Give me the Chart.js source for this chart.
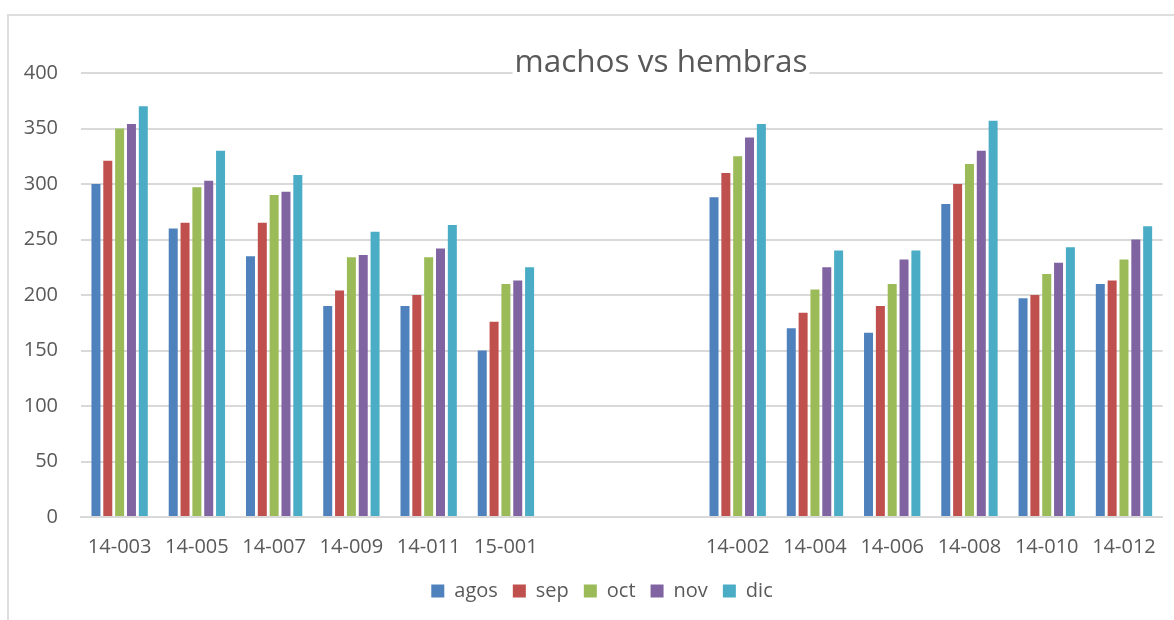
<!DOCTYPE html>
<html>
<head>
<meta charset="utf-8">
<script src="https://cdn.jsdelivr.net/npm/chart.js@4/dist/chart.umd.min.js"></script>
<style>
  html, body { margin: 0; padding: 0; background: #ffffff; overflow: hidden; }
  #wrap { position: relative; width: 1174px; height: 620px; }
  #frame { position: absolute; left: 7px; top: 14px; width: 1300px; height: 800px;
           border-top: 2px solid #dedede; border-left: 2px solid #dedede; box-sizing: border-box; }
  #c { position: absolute; left: 0; top: 0; }
  #title { position: absolute; left: 661px; top: 44px; transform: translateX(-50%);
           font-family: "Open Sans", sans-serif; font-size: 31.5px; line-height: 31px;
           color: #595959; background: #ffffff; white-space: nowrap; padding: 0 2px; }
</style>
</head>
<body>
<div id="wrap">
  <div id="frame"></div>
  <canvas id="c" width="1174" height="620"></canvas>
  <div id="title">machos vs hembras</div>
</div>
<script>
const categories = ['14-003','14-005','14-007','14-009','14-011','15-001','','','14-002','14-004','14-006','14-008','14-010','14-012'];
const seriesNames = ['agos','sep','oct','nov','dic'];
const agos = [300, 260, 235, 190, 190, 150, null, null, 288, 170, 166, 282, 197, 210];
const sep  = [321, 265, 265, 204, 200, 176, null, null, 310, 184, 190, 300, 200, 213];
const oct  = [350, 297, 290, 234, 234, 210, null, null, 325, 205, 210, 318, 219, 232];
const nov  = [354, 303, 293, 236, 242, 213, null, null, 342, 225, 232, 330, 229, 250];
const dic  = [370, 330, 308, 257, 263, 225, null, null, 354, 240, 240, 357, 243, 262];
const yTicks = [0, 50, 100, 150, 200, 250, 300, 350, 400];

const colors = ['#4F81BD', '#C0504D', '#9BBB59', '#8064A2', '#4BACC6'];
const seriesData = [agos, sep, oct, nov, dic];

const textColor = '#595959';
const gridColor = '#d9d9d9';
const font = { family: '"Open Sans", sans-serif', size: 20 };

const shiftLegend = {
  id: 'shiftLegend',
  afterLayout(chart) {
    const lg = chart.legend;
    if (lg) { lg.left = 36; }
  }
};

new Chart(document.getElementById('c'), {
  type: 'bar',
  data: {
    labels: categories,
    datasets: seriesNames.map((n, i) => ({
      label: n,
      data: seriesData[i],
      backgroundColor: colors[i],
      borderWidth: 0,
      barPercentage: 0.76,
      categoryPercentage: 0.766
    }))
  },
  plugins: [shiftLegend],
  options: {
    responsive: false,
    animation: false,
    layout: { padding: { left: 0, right: 6, top: 73, bottom: 9 } },
    plugins: {
      legend: {
        position: 'bottom',
        labels: {
          color: textColor, font: font,
          boxWidth: 13, boxHeight: 13, padding: 15
        }
      },
      title: { display: false },
      tooltip: { enabled: false }
    },
    scales: {
      x: {
        afterFit: (s) => { s.height = 49; },
        grid: { display: false, drawTicks: false },
        border: { display: true, color: gridColor, width: 2 },
        ticks: { color: textColor, font: font, padding: 18, maxRotation: 0, autoSkip: false }
      },
      y: {
        min: 0, max: 400,
        afterFit: (s) => { s.width = 81; },
        afterBuildTicks: (s) => { s.ticks = yTicks.map(v => ({ value: v })); },
        grid: { color: gridColor, lineWidth: 2, drawTicks: false },
        border: { display: false },
        ticks: { color: textColor, font: font, padding: 23 }
      }
    }
  }
});
</script>
</body>
</html>
